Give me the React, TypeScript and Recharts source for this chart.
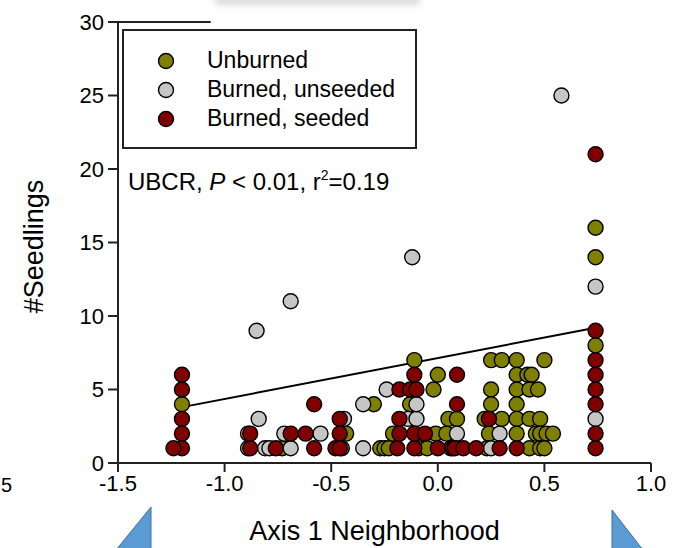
import React from 'react';
import { ScatterChart, Scatter, XAxis, YAxis, Legend, ReferenceLine } from 'recharts';

// values: [axis 1 score, # seedlings]
const unburned: [number, number][] = [
  [-1.2, 4], [-0.73, 1], [-0.45, 1], [-0.43, 2], [-0.3, 4], [-0.27, 1], [-0.25, 1], [-0.23, 1],
  [-0.21, 2], [-0.13, 4], [-0.11, 7], [-0.09, 1], [-0.05, 1], [-0.02, 5], [0.0, 6], [-0.01, 2],
  [0.04, 2], [0.06, 1], [0.05, 3], [0.09, 3], [0.22, 3], [0.25, 7], [0.3, 7], [0.37, 7], [0.5, 7],
  [0.37, 6], [0.42, 6], [0.44, 6], [0.25, 5], [0.37, 5], [0.43, 5], [0.47, 5], [0.25, 4], [0.37, 4],
  [0.3, 3], [0.37, 3], [0.43, 3], [0.48, 3], [0.24, 2], [0.37, 2], [0.46, 2], [0.48, 2], [0.51, 2],
  [0.54, 2], [0.23, 1], [0.43, 1], [0.48, 1], [0.5, 1], [0.74, 8], [0.74, 14], [0.74, 16],
];

const burnedUnseeded: [number, number][] = [
  [-0.85, 9], [-0.69, 11], [-0.12, 14], [0.58, 25], [0.74, 12], [0.74, 3], [-0.89, 1], [-0.89, 2],
  [-0.84, 3], [-0.81, 1], [-0.79, 1], [-0.69, 1], [-0.72, 2], [-0.55, 2], [-0.44, 3], [-0.35, 4],
  [-0.35, 1], [-0.24, 5], [-0.14, 3], [-0.1, 3], [-0.1, 4], [0.09, 2], [0.25, 1], [0.29, 2],
];

const burnedSeeded: [number, number][] = [
  [-1.2, 6], [-1.2, 5], [-1.2, 3], [-1.2, 2], [-1.2, 1], [-1.24, 1], [-0.88, 1], [-0.88, 2],
  [-0.76, 1], [-0.69, 2], [-0.62, 2], [-0.58, 4], [-0.58, 1], [-0.48, 1], [-0.46, 3], [-0.46, 2],
  [-0.46, 1], [-0.19, 1], [-0.18, 2], [-0.18, 3], [-0.18, 5], [-0.13, 5], [-0.1, 5], [-0.11, 6],
  [-0.11, 1], [-0.11, 2], [-0.06, 2], [0.0, 1], [0.07, 1], [0.08, 1], [0.12, 1], [0.18, 1],
  [0.09, 4], [0.09, 6], [0.24, 3], [0.29, 1], [0.37, 1], [0.74, 21], [0.74, 9], [0.74, 7],
  [0.74, 6], [0.74, 5], [0.74, 4], [0.74, 2], [0.74, 1],
];

// regression line end points
const fitLine = [
  { x: -1.2, y: 3.8 },
  { x: 0.74, y: 9.2 },
];

const xTicks = [-1.5, -1.0, -0.5, 0.0, 0.5, 1.0];
const yTicks = [0, 5, 10, 15, 20, 25, 30];

const FONT = '"Liberation Sans", Arial, sans-serif';

const toPoints = (rows: [number, number][]) => rows.map(([x, y]) => ({ x, y }));

const makeDot = (color: string) => (props: any) => (
  <circle cx={props.cx} cy={props.cy} r={7.5} fill={color} stroke="#000" strokeWidth={1.4} />
);

const series = [
  { name: 'Unburned', color: '#808000', rows: unburned },
  { name: 'Burned, unseeded', color: '#c6c6c6', rows: burnedUnseeded },
  { name: 'Burned, seeded', color: '#800000', rows: burnedSeeded },
];

const LegendBox = (props: any) => {
  const items = [...(props.payload || [])].sort(
    (a: any, b: any) =>
      series.findIndex((s) => s.name === a.value) - series.findIndex((s) => s.name === b.value)
  );
  return (
    <div
      style={{
        width: 295,
        height: 120,
        border: '2px solid #222',
        background: '#fff',
        boxSizing: 'border-box',
        paddingTop: 15,
      }}
    >
      {items.map((p: any) => (
        <div key={p.value} style={{ display: 'flex', alignItems: 'center', height: 29 }}>
          <svg width={83} height={20}>
            <circle cx={42} cy={10} r={7.5} fill={p.color} stroke="#000" strokeWidth={1.4} />
          </svg>
          <span style={{ fontSize: 23, color: '#000', fontFamily: FONT }}>{p.value}</span>
        </div>
      ))}
    </div>
  );
};

const App: React.FC = () => {
  return (
    <div
      style={{
        position: 'fixed',
        left: 0,
        top: 0,
        width: 685,
        height: 548,
        background: '#fff',
        fontFamily: FONT,
        overflow: 'hidden',
      }}
    >
      {/* blurred strip at top of the slide */}
      <div
        style={{
          position: 'absolute',
          left: 215,
          top: -5,
          width: 205,
          height: 10,
          background: '#c4c4c4',
          filter: 'blur(3px)',
          opacity: 0.6,
        }}
      />
      <ScatterChart width={685} height={548} margin={{ top: 22, right: 34, bottom: 0, left: 0 }}>
        <XAxis
          type="number"
          dataKey="x"
          domain={[-1.5, 1.0]}
          ticks={xTicks}
          tickFormatter={(v: number) => v.toFixed(1)}
          height={85}
          tickSize={9}
          tickMargin={3}
          stroke="#222"
          strokeWidth={2}
          tick={{ fontSize: 22, fill: '#000', fontFamily: FONT }}
          label={(p: any) => {
            const vb = p.viewBox || {};
            return (
              <text
                x={vb.x + vb.width / 2 - 10}
                y={540}
                textAnchor="middle"
                fontSize={27}
                fill="#000"
                fontFamily={FONT}
              >
                Axis 1 Neighborhood
              </text>
            );
          }}
        />
        <YAxis
          type="number"
          dataKey="y"
          domain={[0, 30]}
          ticks={yTicks}
          width={118}
          tickSize={10}
          tickMargin={4}
          stroke="#222"
          strokeWidth={2}
          tick={{ fontSize: 22, fill: '#000', fontFamily: FONT }}
          label={(p: any) => {
            const vb = p.viewBox || {};
            const cy = vb.y + vb.height / 2 + 4;
            return (
              <text
                x={43}
                y={cy}
                transform={`rotate(-90 43 ${cy})`}
                textAnchor="middle"
                fontSize={27}
                fill="#000"
                fontFamily={FONT}
              >
                #Seedlings
              </text>
            );
          }}
        />
        <ReferenceLine
          segment={[
            { x: -1.5, y: 30 },
            { x: -1.065, y: 30 },
          ]}
          stroke="#222"
          strokeWidth={2}
        />
        {series.map((s) => (
          <Scatter
            key={s.name}
            name={s.name}
            data={toPoints(s.rows)}
            fill={s.color}
            shape={makeDot(s.color)}
            isAnimationActive={false}
          />
        ))}
        <ReferenceLine segment={fitLine} stroke="#000" strokeWidth={2} />
        <Legend
          layout="horizontal"
          align="center"
          verticalAlign="middle"
          content={<LegendBox />}
          wrapperStyle={{ position: 'absolute', left: 122, top: 29, width: 295, height: 120 }}
        />
      </ScatterChart>
      <svg
        width={685}
        height={548}
        style={{ position: 'absolute', left: 0, top: 0, pointerEvents: 'none' }}
      >
        <text x={128} y={190} fontSize={24} fill="#000" fontFamily={FONT}>
          UBCR,{' '}
          <tspan fontStyle="italic">P</tspan>
          {' < 0.01, r'}
          <tspan fontSize={14} dy={-10}>
            2
          </tspan>
          <tspan dy={10}>=0.19</tspan>
        </text>
        <text x={1} y={492} fontSize={20} fill="#000" fontFamily={FONT}>
          5
        </text>
        <polygon points="151,507 151,550 116,550" fill="#5b9bd5" stroke="#41719c" strokeWidth={1} />
        <polygon points="612,510 612,550 643,550" fill="#5b9bd5" stroke="#41719c" strokeWidth={1} />
      </svg>
    </div>
  );
};

export default App;
